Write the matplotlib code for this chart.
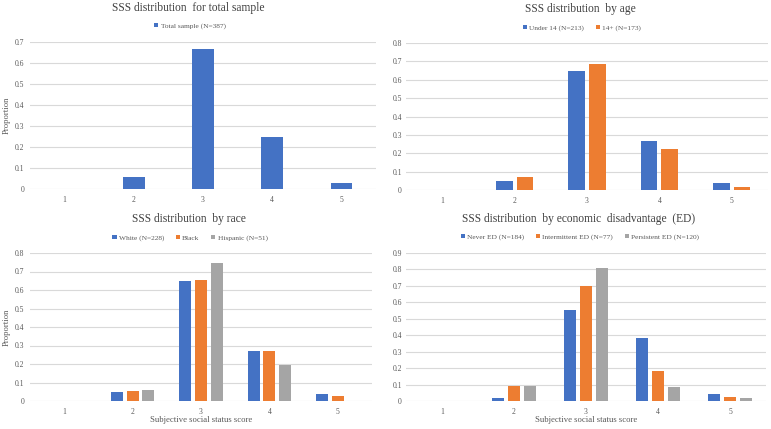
import numpy as np
import matplotlib
matplotlib.use("Agg")
import matplotlib.pyplot as plt

plt.rcParams["font.family"] = ["Liberation Serif", "DejaVu Serif"]

scores = ["1", "2", "3", "4", "5"]

total_sample = [0.0, 0.058, 0.665, 0.247, 0.030]

age_under14 = [0.0, 0.048, 0.648, 0.268, 0.037]
age_14plus = [0.0, 0.070, 0.688, 0.225, 0.018]

race_white = [0.0, 0.048, 0.648, 0.268, 0.037]
race_black = [0.0, 0.053, 0.653, 0.268, 0.028]
race_hispanic = [0.0, 0.060, 0.745, 0.196, 0.0]

ed_never = [0.0, 0.020, 0.555, 0.385, 0.040]
ed_intermittent = [0.0, 0.092, 0.700, 0.182, 0.025]
ed_persistent = [0.0, 0.092, 0.808, 0.083, 0.017]

BLUE, ORANGE, GRAY = "#4472C4", "#ED7D31", "#A5A5A5"
TXT = "#595959"
GRID = "#D9D9D9"

W, H = 771, 429
fig = plt.figure(figsize=(W / 100, H / 100), dpi=100)
fig.patch.set_facecolor("white")


def px(x0, y0, x1, y1):
    # pixel box (from top-left) -> figure rect
    return [x0 / W, 1 - y1 / H, (x1 - x0) / W, (y1 - y0) / H]


def panel(box, title, title_xy, legend_xy, series, ymax, width, step,
          ylabel=None, xlabel=None, ypad=4.3):
    ax = fig.add_axes(px(*box))
    x = np.arange(len(scores))
    n = len(series)
    for i, (label, vals, color) in enumerate(series):
        off = (i - (n - 1) / 2) * step
        ax.bar(x + off, vals, width=width, color=color, label=label, zorder=3)
    ax.set_xlim(-0.5, len(scores) - 0.5)
    ax.set_ylim(0, ymax)
    yt = np.round(np.arange(0, ymax + 0.001, 0.1), 1)
    ax.set_yticks(yt)
    ax.set_yticklabels(["0"] + [f"{v:.1f}" for v in yt[1:]])
    ax.set_xticks(x)
    ax.set_xticklabels(scores)
    for v in yt:
        ax.axhline(v, color=GRID, linewidth=0.8, zorder=1)
    for s in ax.spines.values():
        s.set_visible(False)
    ax.tick_params(axis="y", length=0, labelsize=5.5, colors=TXT, pad=ypad)
    ax.tick_params(axis="x", length=0, labelsize=5.5, colors=TXT, pad=5)
    fig.text(title_xy[0] / W, 1 - title_xy[1] / H, title, fontsize=8.3,
             color="#404040", ha="center", va="center")
    if ylabel:
        fig.text(7 / W, 1 - (box[1] + box[3]) / 2 / H, ylabel, fontsize=6.2,
                 color=TXT, rotation=90, ha="center", va="center")
    if xlabel:
        ax.set_xlabel(xlabel, fontsize=6.2, color=TXT, labelpad=0)
    ax.legend(loc="center", bbox_to_anchor=(legend_xy[0] / W, 1 - legend_xy[1] / H),
              bbox_transform=fig.transFigure, ncol=n, frameon=False,
              fontsize=5.3, labelcolor=TXT, handlelength=0.55, handleheight=0.55,
              handletextpad=0.3, columnspacing=1.6, borderpad=0)
    return ax


panel((30, 42, 376, 189), "SSS distribution  for total sample", (188, 8), (190, 26),
      [("Total sample (N=387)", total_sample, BLUE)], 0.7, 0.31, 0.0,
      ylabel="Proportion")
panel((406, 43, 768, 190), "SSS distribution  by age", (580, 9), (582, 28),
      [("Under 14 (N=213)", age_under14, BLUE), ("14+ (N=173)", age_14plus, ORANGE)],
      0.8, 0.23, 0.285, ypad=3)
panel((30, 253, 372, 401), "SSS distribution  by race", (189, 219), (190, 238),
      [("White (N=228)", race_white, BLUE), ("Black", race_black, ORANGE),
       ("Hispanic (N=51)", race_hispanic, GRAY)],
      0.8, 0.175, 0.227, ylabel="Proportion", xlabel="Subjective social status score")
panel((406, 253, 766, 401), "SSS distribution  by economic  disadvantage  (ED)", (579, 219),
      (580, 237),
      [("Never ED (N=184)", ed_never, BLUE), ("Intermittent ED (N=77)", ed_intermittent, ORANGE),
       ("Persistent ED (N=120)", ed_persistent, GRAY)],
      0.9, 0.18, 0.222, xlabel="Subjective social status score", ypad=3)

fig.savefig("out.png", dpi=100, facecolor="white")
